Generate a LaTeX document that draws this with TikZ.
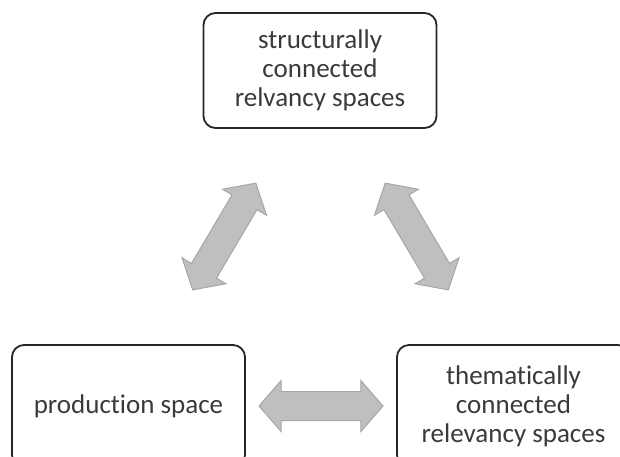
\documentclass[tikz,border=0pt]{standalone}
\usepackage{fontspec}
\setmainfont{Carlito}[Ligatures={NoCommon,NoContextual}]
\usetikzlibrary{shapes.arrows,calc}
\definecolor{arrowfill}{HTML}{BFBFBF}
\definecolor{arrowline}{HTML}{A6A6A6}
\definecolor{boxline}{HTML}{262626}
\definecolor{boxtext}{HTML}{3A3A3A}

\begin{document}
\begin{tikzpicture}[x=1pt, y=-1pt,
    spacebox/.style={draw=boxline, line width=1.8pt, rounded corners=12pt,
      minimum width=233pt, minimum height=116pt, align=center, text=boxtext,
      font=\fontsize{27}{29}\selectfont},
    linkarrow/.style={double arrow, draw=arrowline, fill=arrowfill, line width=1pt,
      minimum height=124pt, minimum width=0pt, inner sep=14pt,
      double arrow head extend=11pt, double arrow tip angle=98}]
      % Fix the frame of the page
      \clip (0,0) rectangle (620,456);
      % Draw the three spaces
      \node[spacebox, minimum height=115pt] (struct) at (320,70.5) {structurally\\connected\\relvancy spaces};
      \node[spacebox, minimum height=122pt] (prod) at (128.5,406) {production space};
      \node[spacebox, minimum height=122pt] (them) at (513.5,406) {thematically\\connected\\relevancy spaces};
      % Draw the links between them
      \node[linkarrow, rotate=59.4] (structprod) at ($(struct.south west)!0.5!(prod.north east)$) {};
      \node[linkarrow, rotate=-59.4] (structthem) at ($(struct.south east)!0.5!(them.north west)$) {};
      \node[linkarrow] (prodthem) at ($(prod.east)!0.5!(them.west)$) {};
    \end{tikzpicture}
\end{document}
